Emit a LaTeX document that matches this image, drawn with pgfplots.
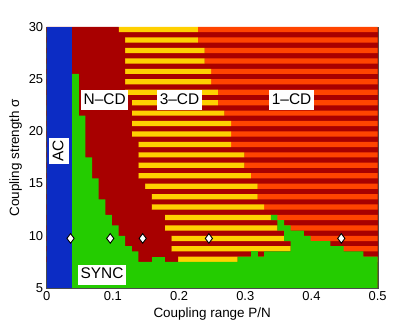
\documentclass[border=0pt]{standalone}
\usepackage{fontspec}
\setmainfont{Liberation Sans}
\usepackage{pgfplots}
\usepackage{pgfplotstable}
\pgfplotsset{compat=1.18}

\definecolor{acblue}{RGB}{12,44,196}
\definecolor{syncgreen}{RGB}{36,204,0}
\definecolor{cddark}{RGB}{168,0,0}
\definecolor{cdyellow}{RGB}{255,208,0}
\definecolor{cdorange}{RGB}{255,68,0}

% bright rows (sigma in [n-0.5,n]): centre s, N-CD up to a, yellow a..b, orange b..0.5
\pgfplotstableread{
s     a      b
29.75 0.1085 0.2285
28.75 0.1185 0.2285
27.75 0.1185 0.2385
26.75 0.1185 0.2385
25.75 0.1185 0.2485
24.75 0.1185 0.2485
23.75 0.1185 0.2585
22.75 0.1285 0.2585
21.75 0.1285 0.2685
20.75 0.1285 0.2785
19.75 0.1285 0.2785
18.75 0.1385 0.2785
17.75 0.1385 0.2985
16.75 0.1385 0.2985
15.75 0.1385 0.3085
14.75 0.1485 0.3185
13.75 0.1585 0.3185
12.75 0.1585 0.3285
11.75 0.1785 0.3385
10.75 0.1785 0.3485
9.75  0.1885 0.3585
8.75  0.1885 0.3685
7.75  0.1985 0.2885
}\brightrows

\pgfplotsset{
    phase/.style={
        scale only axis,
        width=331bp, height=261bp,
        xmin=0, xmax=0.5, ymin=5, ymax=30,
    },
}

\begin{document}
\begin{tikzpicture}[
    lbl/.style={fill=white, inner xsep=2.5bp, inner ysep=2.5bp,
        text height=11.5bp, text depth=3.5bp,
        font=\fontsize{15.5}{18}\selectfont},
]
% layer 1: dark N-CD background and the striped rows
\begin{axis}[
    phase,
    xbar stacked, bar width=0.5,
    axis background/.style={fill=cddark},
    xtick={0,0.1,0.2,0.3,0.4,0.5},
    ytick={5,10,15,20,25,30},
    major tick length=0pt,
    axis line style={black!70, line width=0.4pt},
    tick label style={font=\fontsize{13}{15}\selectfont},
    label style={font=\fontsize{13.5}{16}\selectfont},
    /pgf/number format/assume math mode=true,
    xlabel={Coupling range P/N},
    ylabel={Coupling strength σ},
]
\coordinate (bl) at (rel axis cs:0,0);
\coordinate (tr) at (rel axis cs:1,1);
\addplot[fill=cddark, draw=none] table[x=a, y=s] {\brightrows};
\addplot[fill=cdyellow, draw=none] table[x expr=\thisrow{b}-\thisrow{a}, y=s] {\brightrows};
\addplot[fill=cdorange, draw=none] table[x expr=0.5-\thisrow{b}, y=s] {\brightrows};
\end{axis}

% layer 2: SYNC and AC regions, sample points, labels
\begin{axis}[phase, hide axis]
\addplot[fill=syncgreen, draw=none] coordinates {
    (0.0385,5) (0.0385,25.5) (0.0485,25.5) (0.0485,21.5) (0.0585,21.5)
    (0.0585,17.5) (0.0685,17.5) (0.0685,15.5) (0.0785,15.5) (0.0785,13.5)
    (0.0885,13.5) (0.0885,12) (0.0985,12) (0.0985,11) (0.1085,11)
    (0.1085,10) (0.1185,10) (0.1185,9) (0.1285,9) (0.1285,8.5)
    (0.1385,8.5) (0.1385,7.5) (0.2885,7.5) (0.2885,8) (0.3285,8)
    (0.3285,8.5) (0.3685,8.5) (0.3685,9.5) (0.3585,9.5) (0.3585,10.5)
    (0.3485,10.5) (0.3485,11.5) (0.3385,11.5) (0.3385,12) (0.3485,12)
    (0.3485,11.5) (0.3585,11.5) (0.3585,11) (0.3685,11) (0.3685,10.5)
    (0.3885,10.5) (0.3885,10) (0.3985,10) (0.3985,9.5) (0.4285,9.5)
    (0.4285,9) (0.4485,9) (0.4485,8.5) (0.4785,8.5) (0.4785,8)
    (0.5,8) (0.5,5)
} -- cycle;
\addplot[fill=syncgreen, draw=none] coordinates {(0.1585,7.5) (0.1785,7.5) (0.1785,8) (0.1585,8)} -- cycle;
\addplot[fill=syncgreen, draw=none] coordinates {(0.3085,8) (0.3185,8) (0.3185,8.5) (0.3085,8.5)} -- cycle;

\addplot[fill=acblue, draw=none] coordinates {(0,5) (0.0385,5) (0.0385,30) (0,30)} -- cycle;

\addplot[only marks, mark=diamond*, mark size=4.8bp,
    mark options={fill=white, draw=black, line width=0.9pt}]
    coordinates {(0.036,9.75) (0.096,9.75) (0.145,9.75) (0.245,9.75) (0.445,9.75)};

\node[lbl] at (axis cs:0.0876,22.96) {N--CD};
\node[lbl] at (axis cs:0.2006,22.96) {3--CD};
\node[lbl] at (axis cs:0.370,22.96) {1--CD};
\node[lbl] at (axis cs:0.0835,6.26) {SYNC};
\node[lbl, rotate=90] at (axis cs:0.0193,18.14) {AC};
\end{axis}
\path ([shift={(-46.7bp,-40bp)}]bl) rectangle ([shift={(29.3bp,27bp)}]tr);
\end{tikzpicture}
\end{document}
